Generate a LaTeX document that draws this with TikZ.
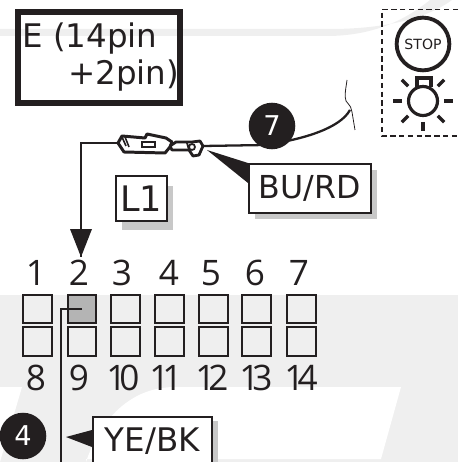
\documentclass[tikz,border=0pt]{standalone}
\usepackage{fontspec}
\setmainfont{DejaVu Sans}
\newfontfamily\numfont[LetterSpace=-20]{Open Sans}
\definecolor{wmark}{HTML}{EFEFEF}
\definecolor{shadowgray}{HTML}{C8C8C8}
\definecolor{inkblack}{HTML}{231F20}
\tikzset{
  labelbox/.style={draw=inkblack,fill=white,line width=0.9pt,text=inkblack,inner sep=0pt,anchor=north west},
  pinbox/.style={draw=inkblack,line width=1.1pt,minimum size=16pt,inner sep=0pt},
  pinnum/.style={font=\numfont\fontsize{20}{20}\selectfont,text=inkblack,inner sep=0pt},
  badge/.style={circle,fill=inkblack,text=white,minimum size=26.5pt,inner sep=0pt,font=\fontsize{15.5}{15.5}\selectfont},
  wire/.style={draw=inkblack,line width=0.9pt},
}
\begin{document}
\begin{tikzpicture}[x=0.02cm,y=-0.02cm]
    \useasboundingbox (0,0) rectangle (458,462);
    \clip (0,0) rectangle (458,462);
    % watermark
    \fill[wmark] (0,29) -- (330,29) .. controls (380,29) and (425,20) .. (452,0) -- (430,0) .. controls (405,20) and (375,35) .. (330,36) -- (0,36) -- cycle;
    \fill[wmark] (0,295) rectangle (458,462);
    \fill[white] (0,387) -- (22,387) -- (0,462) -- cycle;
    \fill[white] (86,462) .. controls (100,420) and (130,387) .. (175,387) -- (401,387) -- (381,459) -- (86,459) -- cycle;
    % title
    \draw[inkblack,line width=3.1pt] (18,12) rectangle (180,103);
    \node[anchor=base west,text=inkblack,inner sep=0pt,font=\fontsize{18.5}{18.5}\selectfont] (titleA) at (22,48) {E (14pin};
    \node[anchor=base west,text=inkblack,inner sep=0pt,font=\fontsize{18.5}{18.5}\selectfont] (titleB) at (68,85) {+2pin)};
    % stop lamp
    \draw[inkblack,densely dashed,line width=0.7pt] (458,9.5) -- (382,9.5) -- (382,136) -- (458,136);
    \node[circle,draw=inkblack,line width=2.2pt,minimum size=30pt,inner sep=0pt,font=\fontsize{8}{8}\selectfont,text=inkblack] (stop) at (423,44) {STOP};
    \node[circle,draw=inkblack,line width=1.8pt,minimum size=16.5pt,inner sep=0pt] (lamp) at (423,101) {};
    \draw[inkblack,line width=1.8pt] (417,87) -- (417,78) -- (431,78) -- (431,87);
    \foreach \a in {0,45,90,135,180,225,315}
        \draw[inkblack,line width=1.9pt] (lamp.center) ++(\a:21) -- ++(\a:9);
    % connector and wires
    \coordinate (wireEnd) at (81,257);
    \coordinate (plugL) at (118,143);
    \coordinate (plugR) at (203,146);
    \coordinate (wireTop) at (350,110);
    \draw[wire] (plugL) -- (81,143) -- (wireEnd);
    \fill[inkblack] (wireEnd) -- (70,229) -- (92,229) -- cycle;
    \draw[draw=inkblack,line width=1.3pt] (plugR) -- (265,145) .. controls (305,139) and (340,128) .. (wireTop);
    \draw[inkblack,line width=0.45pt] (347,80) .. controls (346,88) and (344,96) .. (346,101) .. controls (350,106) and (352,108) .. (352,112) -- (355,130);
    \draw[inkblack,line width=1.7pt,fill=white,line join=round] (118,143) -- (122,136) -- (145,138) -- (147,134) -- (166,138) -- (172,142) -- (170,147) -- (165,153) -- (124,152) -- cycle;
    \draw[inkblack,line width=0.9pt] (142,142) rectangle (155,147);
    \draw[inkblack,line width=0.9pt] (122,137) -- (126,146) (125,137) -- (129,147);
    \draw[inkblack,line width=1.6pt,fill=white,line join=round] (170,146) -- (176,142) -- (192,142) -- (200,141) -- (203,146) -- (199,155) -- (193,156) -- (189,150) -- (172,150) -- cycle;
    \draw[inkblack,line width=1pt] (187,143) -- (189,150) (192,147) circle (3);
    % labels
    \fill[shadowgray] (255,170) rectangle (377,219);
    \fill[inkblack] (207,150) -- (248,163) -- (248,183) -- cycle;
    \node[labelbox,minimum width=69.4pt,minimum height=27.9pt,font=\fontsize{18}{18}\selectfont] (burd) at (248,163) {BU/RD};
    \node[badge] (seven) at (272,126) {7};
    \fill[shadowgray] (122,186) rectangle (173,230);
    \node[labelbox,minimum width=29pt,minimum height=25.6pt,font=\fontsize{20}{20}\selectfont] (lone) at (115,175) {L1};
    % pins
    \foreach \n/\x/\t in {1/37.5/36,2/82/79,3/125.5/122,4/169.5/169,5/213.5/211,6/256.5/255,7/301.5/299} {
        \node[pinbox] (pin\n) at (\x,309) {};
        \node[pinnum,anchor=base] (num\n) at (\t,285) {\n};
    }
    \foreach \n/\x/\t in {8/37.5/36,9/82/79,10/125.5/123,11/169.5/166,12/213.5/212,13/256.5/256,14/301.5/301} {
        \node[pinbox] (pin\n) at (\x,341.5) {};
        \node[pinnum,anchor=base] (num\n) at (\t,390) {\n};
    }
    \node[pinbox,fill=shadowgray!90!black] (pin2) at (82,309) {};
    \coordinate (wireOut) at (61,470);
    \draw[wire] (pin2.center) -- (61,309) -- (wireOut);
    \fill[shadowgray] (99,421) rectangle (218,480);
    \fill[inkblack] (66,437) -- (92,430) -- (92,447) -- cycle;
    \node[labelbox,minimum width=67.7pt,minimum height=27.4pt,font=\fontsize{18.5}{18.5}\selectfont] (yebk) at (92,416) {YE/BK};
    \node[badge] (four) at (23,436) {4};
\end{tikzpicture}
\end{document}
